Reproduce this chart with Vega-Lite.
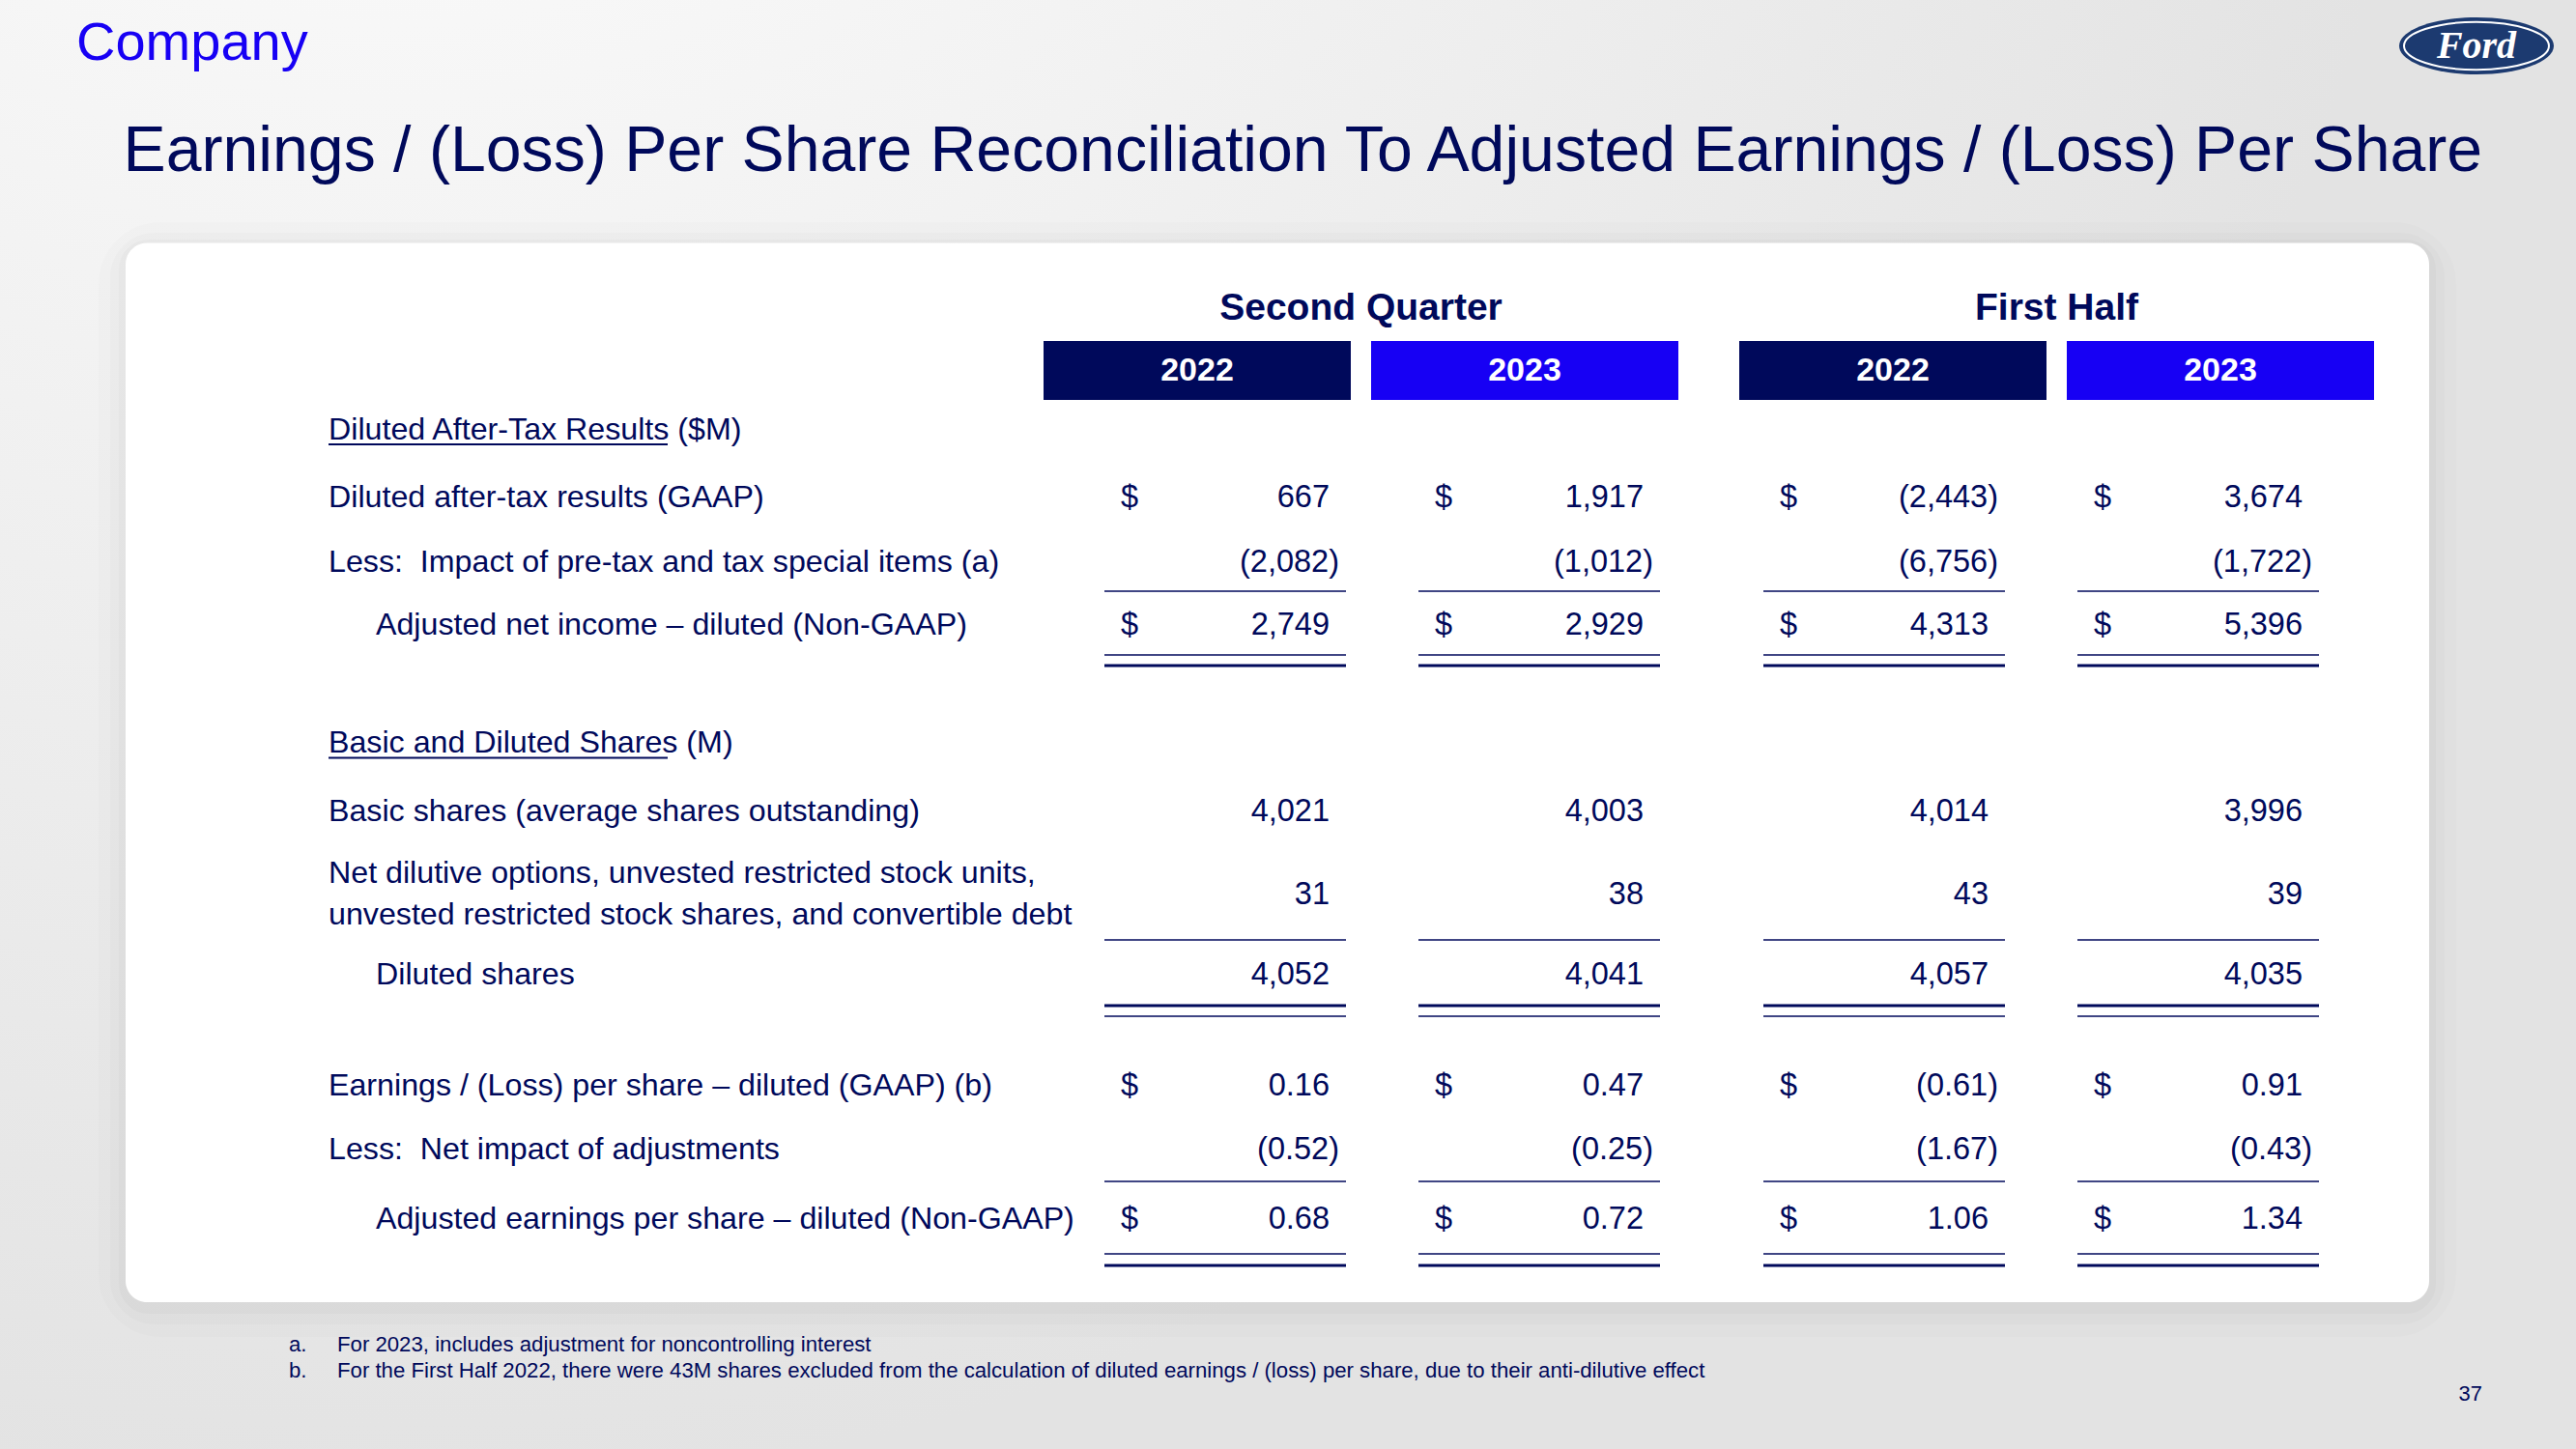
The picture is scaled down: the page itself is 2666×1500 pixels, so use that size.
{
"$schema": "https://vega.github.io/schema/vega-lite/v6.json",
"width": 2666, "height": 1500,
"autosize": {"type": "fit", "contains": "padding"},
"padding": 0,
"background": "#e4e4e4",
"config": {"view": {"stroke": null}, "font": "Liberation Sans"},
"datasets": {
 "periods": [
  {"period": "Q2 2022", "group": "Second Quarter", "year": "2022", "xl": 5.715, "xr": 6.965, "bx1": 5.40, "bx2": 6.99, "bc": 6.195},
  {"period": "Q2 2023", "group": "Second Quarter", "year": "2023", "xl": 7.34, "xr": 8.59, "bx1": 7.095, "bx2": 8.685, "bc": 7.89},
  {"period": "H1 2022", "group": "First Half", "year": "2022", "xl": 9.125, "xr": 10.375, "bx1": 9.0, "bx2": 10.59, "bc": 9.795},
  {"period": "H1 2023", "group": "First Half", "year": "2023", "xl": 10.75, "xr": 12.0, "bx1": 10.695, "bx2": 12.285, "bc": 11.49}
 ],
 "rows": [
  {"row": "s1", "y": 2.225, "u1": 2.30},
  {"row": "r1", "y": 2.575},
  {"row": "r2", "y": 2.91, "u1": 3.06, "w1": "thin"},
  {"row": "r3", "y": 3.235, "u1": 3.39, "w1": "thin", "u2": 3.445, "w2": "thick"},
  {"row": "s2", "y": 3.8425, "u1": 3.9225},
  {"row": "r4", "y": 4.20},
  {"row": "r5", "y": 4.63, "u1": 4.865, "w1": "thin"},
  {"row": "r5 label", "y": 4.52},
  {"row": "r6", "y": 5.0425, "u1": 5.205, "w1": "thick", "u2": 5.26, "w2": "thin"},
  {"row": "r7", "y": 5.62},
  {"row": "r8", "y": 5.95, "u1": 6.115, "w1": "thin"},
  {"row": "r9", "y": 6.31, "u1": 6.49, "w1": "thin", "u2": 6.55, "w2": "thick"}
 ],
 "labels": [
  {"row": "s1", "level": "section", "label": "Diluted After-Tax Results ($M)"},
  {"row": "r1", "level": "item", "label": "Diluted after-tax results (GAAP)"},
  {"row": "r2", "level": "item", "label": "Less:\u00a0 Impact of pre-tax and tax special items (a)"},
  {"row": "r3", "level": "total", "label": "Adjusted net income \u2013 diluted (Non-GAAP)"},
  {"row": "s2", "level": "section", "label": "Basic and Diluted Shares (M)"},
  {"row": "r4", "level": "item", "label": "Basic shares (average shares outstanding)"},
  {"row": "r5 label", "level": "item", "label": ["Net dilutive options, unvested restricted stock units,", "unvested restricted stock shares, and convertible debt"]},
  {"row": "r6", "level": "total", "label": "Diluted shares"},
  {"row": "r7", "level": "item", "label": "Earnings / (Loss) per share \u2013 diluted (GAAP) (b)"},
  {"row": "r8", "level": "item", "label": "Less:\u00a0 Net impact of adjustments"},
  {"row": "r9", "level": "total", "label": "Adjusted earnings per share \u2013 diluted (Non-GAAP)"}
 ],
 "cells": [
  {"row": "r1", "period": "Q2 2022", "kind": "M", "value": 667, "cur": "$"},
  {"row": "r1", "period": "Q2 2023", "kind": "M", "value": 1917, "cur": "$"},
  {"row": "r1", "period": "H1 2022", "kind": "M", "value": -2443, "cur": "$"},
  {"row": "r1", "period": "H1 2023", "kind": "M", "value": 3674, "cur": "$"},
  {"row": "r2", "period": "Q2 2022", "kind": "M", "value": -2082, "cur": ""},
  {"row": "r2", "period": "Q2 2023", "kind": "M", "value": -1012, "cur": ""},
  {"row": "r2", "period": "H1 2022", "kind": "M", "value": -6756, "cur": ""},
  {"row": "r2", "period": "H1 2023", "kind": "M", "value": -1722, "cur": ""},
  {"row": "r3", "period": "Q2 2022", "kind": "M", "value": 2749, "cur": "$"},
  {"row": "r3", "period": "Q2 2023", "kind": "M", "value": 2929, "cur": "$"},
  {"row": "r3", "period": "H1 2022", "kind": "M", "value": 4313, "cur": "$"},
  {"row": "r3", "period": "H1 2023", "kind": "M", "value": 5396, "cur": "$"},
  {"row": "r4", "period": "Q2 2022", "kind": "M", "value": 4021, "cur": ""},
  {"row": "r4", "period": "Q2 2023", "kind": "M", "value": 4003, "cur": ""},
  {"row": "r4", "period": "H1 2022", "kind": "M", "value": 4014, "cur": ""},
  {"row": "r4", "period": "H1 2023", "kind": "M", "value": 3996, "cur": ""},
  {"row": "r5", "period": "Q2 2022", "kind": "M", "value": 31, "cur": ""},
  {"row": "r5", "period": "Q2 2023", "kind": "M", "value": 38, "cur": ""},
  {"row": "r5", "period": "H1 2022", "kind": "M", "value": 43, "cur": ""},
  {"row": "r5", "period": "H1 2023", "kind": "M", "value": 39, "cur": ""},
  {"row": "r6", "period": "Q2 2022", "kind": "M", "value": 4052, "cur": ""},
  {"row": "r6", "period": "Q2 2023", "kind": "M", "value": 4041, "cur": ""},
  {"row": "r6", "period": "H1 2022", "kind": "M", "value": 4057, "cur": ""},
  {"row": "r6", "period": "H1 2023", "kind": "M", "value": 4035, "cur": ""},
  {"row": "r7", "period": "Q2 2022", "kind": "EPS", "value": 0.16, "cur": "$"},
  {"row": "r7", "period": "Q2 2023", "kind": "EPS", "value": 0.47, "cur": "$"},
  {"row": "r7", "period": "H1 2022", "kind": "EPS", "value": -0.61, "cur": "$"},
  {"row": "r7", "period": "H1 2023", "kind": "EPS", "value": 0.91, "cur": "$"},
  {"row": "r8", "period": "Q2 2022", "kind": "EPS", "value": -0.52, "cur": ""},
  {"row": "r8", "period": "Q2 2023", "kind": "EPS", "value": -0.25, "cur": ""},
  {"row": "r8", "period": "H1 2022", "kind": "EPS", "value": -1.67, "cur": ""},
  {"row": "r8", "period": "H1 2023", "kind": "EPS", "value": -0.43, "cur": ""},
  {"row": "r9", "period": "Q2 2022", "kind": "EPS", "value": 0.68, "cur": "$"},
  {"row": "r9", "period": "Q2 2023", "kind": "EPS", "value": 0.72, "cur": "$"},
  {"row": "r9", "period": "H1 2022", "kind": "EPS", "value": 1.06, "cur": "$"},
  {"row": "r9", "period": "H1 2023", "kind": "EPS", "value": 1.34, "cur": "$"}
 ],
 "notes": [
  {"markers": ["a.", "b."], "notes": ["For 2023, includes adjustment for noncontrolling interest", "For the First Half 2022, there were 43M shares excluded from the calculation of diluted earnings / (loss) per share, due to their anti-dilutive effect"]}
 ]
},
"layer": [
 {"data": {"values": [{}]},
  "mark": {"type": "rect", "fill": {"gradient": "radial", "x1": 0.15, "y1": 0, "r1": 0, "x2": 0.15, "y2": 0, "r2": 0.8, "stops": [{"offset": 0, "color": "#ffffff"}, {"offset": 1, "color": "#e3e3e3"}]}},
  "encoding": {
   "x": {"datum": 0, "type": "quantitative", "scale": {"domain": [0, 13.33], "nice": false, "zero": false}, "axis": null},
   "x2": {"datum": 13.33},
   "y": {"datum": 0, "type": "quantitative", "scale": {"domain": [0, 7.5], "nice": false, "zero": false, "reverse": true}, "axis": null},
   "y2": {"datum": 7.5}}},
 {"data": {"values": [{}]},
  "mark": {"type": "rect", "fillOpacity": 0, "stroke": "#000000", "strokeOpacity": 0.012, "strokeWidth": 56, "cornerRadius": 36},
  "encoding": {
   "x": {"datum": 0.65, "type": "quantitative", "scale": {"domain": [0, 13.33], "nice": false, "zero": false}, "axis": null},
   "x2": {"datum": 12.57},
   "y": {"datum": 1.29, "type": "quantitative", "scale": {"domain": [0, 7.5], "nice": false, "zero": false, "reverse": true}, "axis": null},
   "y2": {"datum": 6.78}}},
 {"data": {"values": [{}]},
  "mark": {"type": "rect", "fillOpacity": 0, "stroke": "#000000", "strokeOpacity": 0.014, "strokeWidth": 32, "cornerRadius": 30},
  "encoding": {
   "x": {"datum": 0.65, "type": "quantitative", "scale": {"domain": [0, 13.33], "nice": false, "zero": false}, "axis": null},
   "x2": {"datum": 12.57},
   "y": {"datum": 1.285, "type": "quantitative", "scale": {"domain": [0, 7.5], "nice": false, "zero": false, "reverse": true}, "axis": null},
   "y2": {"datum": 6.775}}},
 {"data": {"values": [{}]},
  "mark": {"type": "rect", "fillOpacity": 0, "stroke": "#000000", "strokeOpacity": 0.018, "strokeWidth": 14, "cornerRadius": 24},
  "encoding": {
   "x": {"datum": 0.65, "type": "quantitative", "scale": {"domain": [0, 13.33], "nice": false, "zero": false}, "axis": null},
   "x2": {"datum": 12.57},
   "y": {"datum": 1.275, "type": "quantitative", "scale": {"domain": [0, 7.5], "nice": false, "zero": false, "reverse": true}, "axis": null},
   "y2": {"datum": 6.765}}},
 {"data": {"values": [{}]},
  "mark": {"type": "rect", "fill": "#ffffff", "cornerRadius": 22},
  "encoding": {
   "x": {"datum": 0.65, "type": "quantitative", "scale": {"domain": [0, 13.33], "nice": false, "zero": false}, "axis": null},
   "x2": {"datum": 12.57},
   "y": {"datum": 1.258, "type": "quantitative", "scale": {"domain": [0, 7.5], "nice": false, "zero": false, "reverse": true}, "axis": null},
   "y2": {"datum": 6.74}}},
 {"data": {"values": [{"t": "Company"}]},
  "mark": {"type": "text", "align": "left", "baseline": "alphabetic", "fontSize": 56, "color": "#1700f4"},
  "encoding": {
   "x": {"datum": 0.395, "type": "quantitative", "scale": {"domain": [0, 13.33], "nice": false, "zero": false}, "axis": null},
   "y": {"datum": 0.3085, "type": "quantitative", "scale": {"domain": [0, 7.5], "nice": false, "zero": false, "reverse": true}, "axis": null},
   "text": {"field": "t"}}},
 {"data": {"values": [{"t": "Earnings / (Loss) Per Share Reconciliation To Adjusted Earnings / (Loss) Per Share"}]},
  "mark": {"type": "text", "align": "left", "baseline": "alphabetic", "fontSize": 66.2, "color": "#00095b"},
  "encoding": {
   "x": {"datum": 0.6375, "type": "quantitative", "scale": {"domain": [0, 13.33], "nice": false, "zero": false}, "axis": null},
   "y": {"datum": 0.8835, "type": "quantitative", "scale": {"domain": [0, 7.5], "nice": false, "zero": false, "reverse": true}, "axis": null},
   "text": {"field": "t"}}},
 {"data": {"values": [{"brand": "Ford"}]},
  "mark": {"type": "point", "shape": "M-1,0A1,0.369,0,1,1,1,0A1,0.369,0,1,1,-1,0Z", "size": 25600, "filled": true, "fill": "#1c3a70", "opacity": 1, "strokeWidth": 0},
  "encoding": {
   "x": {"datum": 12.815, "type": "quantitative", "scale": {"domain": [0, 13.33], "nice": false, "zero": false}, "axis": null},
   "y": {"datum": 0.2375, "type": "quantitative", "scale": {"domain": [0, 7.5], "nice": false, "zero": false, "reverse": true}, "axis": null}}},
 {"data": {"values": [{"brand": "Ford"}]},
  "mark": {"type": "point", "shape": "M-1,0A1,0.33,0,1,1,1,0A1,0.33,0,1,1,-1,0Z", "size": 22500, "filled": false, "stroke": "#ffffff", "strokeWidth": 2, "opacity": 1},
  "encoding": {
   "x": {"datum": 12.815, "type": "quantitative", "scale": {"domain": [0, 13.33], "nice": false, "zero": false}, "axis": null},
   "y": {"datum": 0.2375, "type": "quantitative", "scale": {"domain": [0, 7.5], "nice": false, "zero": false, "reverse": true}, "axis": null}}},
 {"data": {"values": [{"brand": "Ford"}]},
  "mark": {"type": "text", "align": "center", "baseline": "middle", "fontSize": 40, "font": "Liberation Serif", "fontStyle": "italic", "fontWeight": "bold", "color": "#ffffff"},
  "encoding": {
   "x": {"datum": 12.815, "type": "quantitative", "scale": {"domain": [0, 13.33], "nice": false, "zero": false}, "axis": null},
   "y": {"datum": 0.2375, "type": "quantitative", "scale": {"domain": [0, 7.5], "nice": false, "zero": false, "reverse": true}, "axis": null},
   "text": {"field": "brand"}}},
 {"data": {"name": "periods"},
  "transform": [{"aggregate": [{"op": "mean", "field": "bc", "as": "gx"}], "groupby": ["group"]}],
  "mark": {"type": "text", "align": "center", "baseline": "middle", "fontSize": 39, "fontWeight": "bold", "color": "#00095b"},
  "encoding": {
   "x": {"field": "gx", "type": "quantitative", "scale": {"domain": [0, 13.33], "nice": false, "zero": false}, "axis": null},
   "y": {"datum": 1.595, "type": "quantitative", "scale": {"domain": [0, 7.5], "nice": false, "zero": false, "reverse": true}, "axis": null},
   "text": {"field": "group"}}},
 {"data": {"name": "periods"},
  "mark": {"type": "rect"},
  "encoding": {
   "x": {"field": "bx1", "type": "quantitative", "scale": {"domain": [0, 13.33], "nice": false, "zero": false}, "axis": null},
   "x2": {"field": "bx2"},
   "y": {"datum": 1.765, "type": "quantitative", "scale": {"domain": [0, 7.5], "nice": false, "zero": false, "reverse": true}, "axis": null},
   "y2": {"datum": 2.07},
   "color": {"field": "year", "type": "nominal", "scale": {"domain": ["2022", "2023"], "range": ["#00095b", "#1700f4"]}, "legend": null}}},
 {"data": {"name": "periods"},
  "mark": {"type": "text", "align": "center", "baseline": "middle", "fontSize": 34, "fontWeight": "bold", "color": "#ffffff"},
  "encoding": {
   "x": {"field": "bc", "type": "quantitative", "scale": {"domain": [0, 13.33], "nice": false, "zero": false}, "axis": null},
   "y": {"datum": 1.9175, "type": "quantitative", "scale": {"domain": [0, 7.5], "nice": false, "zero": false, "reverse": true}, "axis": null},
   "text": {"field": "year"}}},
 {"data": {"name": "labels"},
  "transform": [{"filter": "datum.level !== 'total'"}, {"lookup": "row", "from": {"data": {"name": "rows"}, "key": "row", "fields": ["y"]}}],
  "mark": {"type": "text", "align": "left", "baseline": "middle", "fontSize": 32.2, "lineHeight": 43, "color": "#00095b"},
  "encoding": {
   "x": {"datum": 1.70, "type": "quantitative", "scale": {"domain": [0, 13.33], "nice": false, "zero": false}, "axis": null},
   "y": {"field": "y", "type": "quantitative", "scale": {"domain": [0, 7.5], "nice": false, "zero": false, "reverse": true}, "axis": null},
   "text": {"field": "label"}}},
 {"data": {"name": "labels"},
  "transform": [{"filter": "datum.level === 'total'"}, {"lookup": "row", "from": {"data": {"name": "rows"}, "key": "row", "fields": ["y"]}}],
  "mark": {"type": "text", "align": "left", "baseline": "middle", "fontSize": 32.2, "color": "#00095b"},
  "encoding": {
   "x": {"datum": 1.945, "type": "quantitative", "scale": {"domain": [0, 13.33], "nice": false, "zero": false}, "axis": null},
   "y": {"field": "y", "type": "quantitative", "scale": {"domain": [0, 7.5], "nice": false, "zero": false, "reverse": true}, "axis": null},
   "text": {"field": "label"}}},
 {"data": {"name": "labels"},
  "transform": [{"filter": "datum.level === 'section'"}, {"lookup": "row", "from": {"data": {"name": "rows"}, "key": "row", "fields": ["u1"]}}],
  "mark": {"type": "rule", "color": "#00095b", "strokeWidth": 2},
  "encoding": {
   "x": {"datum": 1.70, "type": "quantitative", "scale": {"domain": [0, 13.33], "nice": false, "zero": false}, "axis": null},
   "x2": {"datum": 3.455},
   "y": {"field": "u1", "type": "quantitative", "scale": {"domain": [0, 7.5], "nice": false, "zero": false, "reverse": true}, "axis": null}}},
 {"data": {"name": "cells"},
  "transform": [{"filter": "datum.cur === '$'"}, {"lookup": "row", "from": {"data": {"name": "rows"}, "key": "row", "fields": ["y"]}}, {"lookup": "period", "from": {"data": {"name": "periods"}, "key": "period", "fields": ["xl"]}}],
  "mark": {"type": "text", "align": "left", "baseline": "middle", "fontSize": 32.5, "dx": 17, "color": "#00095b"},
  "encoding": {
   "x": {"field": "xl", "type": "quantitative", "scale": {"domain": [0, 13.33], "nice": false, "zero": false}, "axis": null},
   "y": {"field": "y", "type": "quantitative", "scale": {"domain": [0, 7.5], "nice": false, "zero": false, "reverse": true}, "axis": null},
   "text": {"field": "cur"}}},
 {"data": {"name": "cells"},
  "transform": [{"filter": "datum.kind === 'M' && datum.value >= 0"}, {"lookup": "row", "from": {"data": {"name": "rows"}, "key": "row", "fields": ["y"]}}, {"lookup": "period", "from": {"data": {"name": "periods"}, "key": "period", "fields": ["xr"]}}],
  "mark": {"type": "text", "align": "right", "baseline": "middle", "fontSize": 32.5, "dx": -17, "color": "#00095b"},
  "encoding": {
   "x": {"field": "xr", "type": "quantitative", "scale": {"domain": [0, 13.33], "nice": false, "zero": false}, "axis": null},
   "y": {"field": "y", "type": "quantitative", "scale": {"domain": [0, 7.5], "nice": false, "zero": false, "reverse": true}, "axis": null},
   "text": {"field": "value", "type": "quantitative", "format": ",.0f"}}},
 {"data": {"name": "cells"},
  "transform": [{"filter": "datum.kind === 'M' && datum.value < 0"}, {"lookup": "row", "from": {"data": {"name": "rows"}, "key": "row", "fields": ["y"]}}, {"lookup": "period", "from": {"data": {"name": "periods"}, "key": "period", "fields": ["xr"]}}],
  "mark": {"type": "text", "align": "right", "baseline": "middle", "fontSize": 32.5, "dx": -7, "color": "#00095b"},
  "encoding": {
   "x": {"field": "xr", "type": "quantitative", "scale": {"domain": [0, 13.33], "nice": false, "zero": false}, "axis": null},
   "y": {"field": "y", "type": "quantitative", "scale": {"domain": [0, 7.5], "nice": false, "zero": false, "reverse": true}, "axis": null},
   "text": {"field": "value", "type": "quantitative", "format": "(,.0f"}}},
 {"data": {"name": "cells"},
  "transform": [{"filter": "datum.kind === 'EPS' && datum.value >= 0"}, {"lookup": "row", "from": {"data": {"name": "rows"}, "key": "row", "fields": ["y"]}}, {"lookup": "period", "from": {"data": {"name": "periods"}, "key": "period", "fields": ["xr"]}}],
  "mark": {"type": "text", "align": "right", "baseline": "middle", "fontSize": 32.5, "dx": -17, "color": "#00095b"},
  "encoding": {
   "x": {"field": "xr", "type": "quantitative", "scale": {"domain": [0, 13.33], "nice": false, "zero": false}, "axis": null},
   "y": {"field": "y", "type": "quantitative", "scale": {"domain": [0, 7.5], "nice": false, "zero": false, "reverse": true}, "axis": null},
   "text": {"field": "value", "type": "quantitative", "format": ".2f"}}},
 {"data": {"name": "cells"},
  "transform": [{"filter": "datum.kind === 'EPS' && datum.value < 0"}, {"lookup": "row", "from": {"data": {"name": "rows"}, "key": "row", "fields": ["y"]}}, {"lookup": "period", "from": {"data": {"name": "periods"}, "key": "period", "fields": ["xr"]}}],
  "mark": {"type": "text", "align": "right", "baseline": "middle", "fontSize": 32.5, "dx": -7, "color": "#00095b"},
  "encoding": {
   "x": {"field": "xr", "type": "quantitative", "scale": {"domain": [0, 13.33], "nice": false, "zero": false}, "axis": null},
   "y": {"field": "y", "type": "quantitative", "scale": {"domain": [0, 7.5], "nice": false, "zero": false, "reverse": true}, "axis": null},
   "text": {"field": "value", "type": "quantitative", "format": "(.2f"}}},
 {"data": {"name": "cells"},
  "transform": [{"lookup": "row", "from": {"data": {"name": "rows"}, "key": "row", "fields": ["u1", "w1"]}}, {"filter": "isValid(datum.w1)"}, {"lookup": "period", "from": {"data": {"name": "periods"}, "key": "period", "fields": ["xl", "xr"]}}],
  "mark": {"type": "rule", "color": "#00095b"},
  "encoding": {
   "x": {"field": "xl", "type": "quantitative", "scale": {"domain": [0, 13.33], "nice": false, "zero": false}, "axis": null},
   "x2": {"field": "xr"},
   "y": {"field": "u1", "type": "quantitative", "scale": {"domain": [0, 7.5], "nice": false, "zero": false, "reverse": true}, "axis": null},
   "strokeWidth": {"field": "w1", "type": "ordinal", "scale": {"domain": ["thin", "thick"], "range": [1.5, 3.2]}, "legend": null}}},
 {"data": {"name": "cells"},
  "transform": [{"lookup": "row", "from": {"data": {"name": "rows"}, "key": "row", "fields": ["u2", "w2"]}}, {"filter": "isValid(datum.w2)"}, {"lookup": "period", "from": {"data": {"name": "periods"}, "key": "period", "fields": ["xl", "xr"]}}],
  "mark": {"type": "rule", "color": "#00095b"},
  "encoding": {
   "x": {"field": "xl", "type": "quantitative", "scale": {"domain": [0, 13.33], "nice": false, "zero": false}, "axis": null},
   "x2": {"field": "xr"},
   "y": {"field": "u2", "type": "quantitative", "scale": {"domain": [0, 7.5], "nice": false, "zero": false, "reverse": true}, "axis": null},
   "strokeWidth": {"field": "w2", "type": "ordinal", "scale": {"domain": ["thin", "thick"], "range": [1.5, 3.2]}, "legend": null}}},
 {"data": {"name": "notes"},
  "mark": {"type": "text", "align": "left", "baseline": "alphabetic", "fontSize": 22.2, "lineHeight": 26.5, "color": "#00095b"},
  "encoding": {
   "x": {"datum": 1.495, "type": "quantitative", "scale": {"domain": [0, 13.33], "nice": false, "zero": false}, "axis": null},
   "y": {"datum": 6.995, "type": "quantitative", "scale": {"domain": [0, 7.5], "nice": false, "zero": false, "reverse": true}, "axis": null},
   "text": {"field": "markers"}}},
 {"data": {"name": "notes"},
  "mark": {"type": "text", "align": "left", "baseline": "alphabetic", "fontSize": 22.2, "lineHeight": 26.5, "color": "#00095b"},
  "encoding": {
   "x": {"datum": 1.745, "type": "quantitative", "scale": {"domain": [0, 13.33], "nice": false, "zero": false}, "axis": null},
   "y": {"datum": 6.995, "type": "quantitative", "scale": {"domain": [0, 7.5], "nice": false, "zero": false, "reverse": true}, "axis": null},
   "text": {"field": "notes"}}},
 {"data": {"values": [{"page": "37"}]},
  "mark": {"type": "text", "align": "right", "baseline": "middle", "fontSize": 22, "color": "#00095b"},
  "encoding": {
   "x": {"datum": 12.845, "type": "quantitative", "scale": {"domain": [0, 13.33], "nice": false, "zero": false}, "axis": null},
   "y": {"datum": 7.215, "type": "quantitative", "scale": {"domain": [0, 7.5], "nice": false, "zero": false, "reverse": true}, "axis": null},
   "text": {"field": "page"}}}
]
}
